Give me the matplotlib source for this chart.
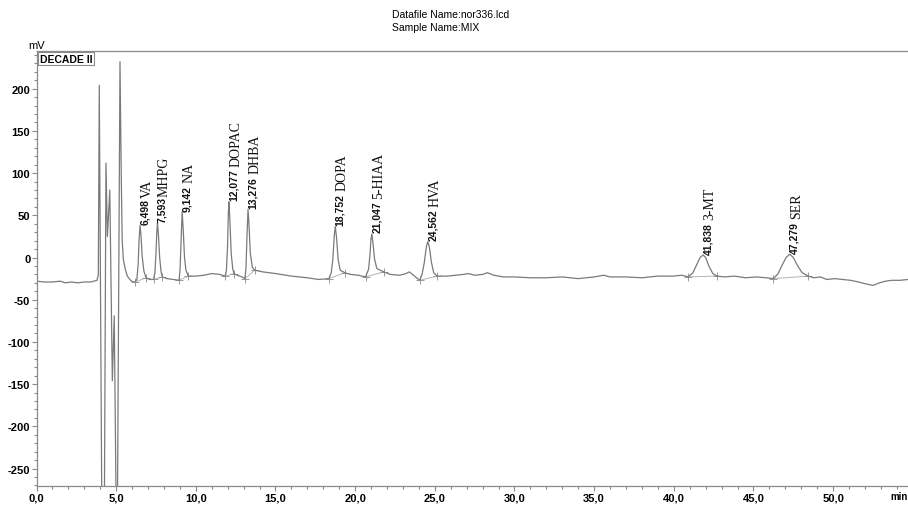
# Chromatogram of the MIX standard (DECADE II detector)

import numpy as np
import matplotlib
matplotlib.use("Agg")
import matplotlib.pyplot as plt
from matplotlib.ticker import MultipleLocator, FuncFormatter

# detector trace: time in min, signal in mV
trace_t = [0.0, 0.5, 1.0, 1.5, 1.8, 2.2, 2.6, 3.0, 3.4, 3.8, 3.88,
           3.94, 4.10, 4.26, 4.36, 4.45, 4.60, 4.76, 4.88, 5.00, 5.08,
           5.24, 5.32, 5.38, 5.45, 5.56, 5.70, 5.90, 6.05,
           6.18, 6.30, 6.38, 6.44, 6.498, 6.56, 6.63, 6.74, 6.88, 7.10,
           7.35, 7.43, 7.50, 7.55, 7.593, 7.65, 7.73, 7.82, 7.90, 8.2, 8.6,
           8.95, 9.01, 9.07, 9.142, 9.21, 9.29, 9.38, 9.52, 10.0, 10.5, 11.0, 11.5,
           11.85, 11.92, 11.99, 12.04, 12.077, 12.13, 12.22, 12.32, 12.40, 12.6, 12.9,
           13.08, 13.15, 13.21, 13.276, 13.34, 13.42, 13.55, 13.70, 14.2, 15.0, 16.0, 17.0, 17.7,
           18.35, 18.50, 18.60, 18.69, 18.752, 18.83, 18.93, 19.06, 19.35, 19.7, 20.2,
           20.65, 20.84, 20.93, 20.99, 21.047, 21.12, 21.22, 21.36, 21.80, 22.2, 22.8, 23.2, 23.4, 23.6,
           24.05, 24.20, 24.34, 24.47, 24.562, 24.66, 24.79, 24.93, 25.15,
           25.8, 26.3, 26.8, 27.1, 27.5, 28.0, 28.3, 28.7, 29.3, 30.0, 31.0, 32.0,
           33.0, 34.0, 35.0, 35.6, 36.0, 37.0, 38.0, 39.0, 40.0, 40.5,
           40.92, 41.20, 41.45, 41.65, 41.838, 42.00, 42.20, 42.45, 42.72,
           43.2, 43.8, 44.5, 45.2, 45.8,
           46.25, 46.55, 46.80, 47.05, 47.279, 47.50, 47.75, 48.05, 48.45,
           48.8, 49.2, 49.6, 50.1, 50.6, 51.1, 51.6, 52.0, 52.5, 52.9, 53.3, 53.7, 54.2, 54.7]
trace_mv = [-28, -29, -29, -28, -30, -29, -30, -29, -29, -27, -20,
            204, -300, -300, 112, 25, 80, -146, -69, -300, -300,
            232, 95, 20, -2, -13, -22, -27, -29,
            -29, -26, -8, 22, 38, 26, 2, -16, -24, -26,
            -26, -18, 5, 30, 41, 28, 0, -17, -23, -25, -26,
            -27, -14, 18, 54, 33, 0, -15, -22, -22, -21, -19, -20,
            -22, -15, 12, 52, 66, 48, 5, -14, -19, -21, -23,
            -25, -12, 25, 57, 38, 5, -12, -15, -17, -19, -22, -24, -26,
            -25, -18, -2, 26, 37, 24, -2, -15, -18, -20, -21,
            -23, -14, 3, 21, 28, 17, -2, -13, -17, -20, -21, -19, -17, -20,
            -27, -20, -6, 13, 19, 12, -6, -18, -22,
            -22, -21, -20, -19, -21, -20, -18, -21, -23, -23, -24, -24,
            -23, -25, -23, -21, -23, -23, -24, -22, -22, -21,
            -23, -18, -8, 0, 3, 0, -10, -19, -22,
            -23, -22, -24, -23, -24,
            -25, -19, -9, 0, 4, 0, -9, -18, -22,
            -24, -23, -26, -25, -26, -27, -29, -31, -33, -30, -28, -27, -27, -26]

# identified peaks
peak_names = ["VA", "MHPG", "NA", "DOPAC", "DHBA", "DOPA", "5-HIAA", "HVA", "3-MT", "SER"]
peak_rt = [6.498, 7.593, 9.142, 12.077, 13.276, 18.752, 21.047, 24.562, 41.838, 47.279]
peak_mv = [38, 41, 54, 66, 57, 37, 28, 19, 3, 4]
# integration start / end points
start_t = [6.18, 7.35, 8.95, 11.85, 13.08, 18.35, 20.65, 24.05, 40.92, 46.25]
start_mv = [-29, -26, -27, -22, -25, -25, -23, -27, -23, -25]
end_t = [6.88, 7.90, 9.52, 12.40, 13.70, 19.35, 21.80, 25.15, 42.72, 48.45]
end_mv = [-24, -23, -22, -19, -15, -18, -17, -22, -22, -22]

num_name_gap = [1, 0, 2, 2, 2, 2, 2, 2, 2, 2]

line_col = "#7a7a7a"

fig = plt.figure(figsize=(9.08, 5.06), dpi=100)
ax = fig.add_axes([0.0402, 0.0375, 0.9598, 0.8598])

# integration baselines and marks
for i in range(len(peak_names)):
    ax.plot([start_t[i], end_t[i]], [start_mv[i], end_mv[i]], color="#b5b5b5", lw=0.7, zorder=1)
ax.plot(start_t + end_t, start_mv + end_mv, "+", color="#9a9a9a", ms=6, mew=0.7, zorder=1)

ax.plot(trace_t, trace_mv, color=line_col, lw=0.9, zorder=2)

ax.set_xlim(0, 54.7)
ax.set_ylim(-270.7, 244.7)

# peak labels: retention time then compound name, rotated
for i in range(len(peak_names)):
    num = ax.annotate(("%.3f" % peak_rt[i]).replace(".", ","), xy=(peak_rt[i], peak_mv[i]),
                      xytext=(3.5, 1), textcoords="offset points", rotation=90,
                      ha="center", va="bottom", fontsize=7.5, fontweight="bold",
                      family="Liberation Sans", color="#111111")
    ax.annotate(peak_names[i], xy=(0.5, 1), xycoords=num,
                xytext=(1.5, num_name_gap[i]), textcoords="offset points", rotation=90,
                ha="center", va="bottom", fontsize=10, family="Liberation Serif",
                color="#111111")

# axes styling
for s in ["left", "bottom", "top"]:
    ax.spines[s].set_color("#8a8a8a")
    ax.spines[s].set_linewidth(0.9)
ax.spines["right"].set_visible(False)

ax.xaxis.set_major_locator(MultipleLocator(5))
ax.xaxis.set_minor_locator(MultipleLocator(1))
ax.yaxis.set_major_locator(MultipleLocator(50))
ax.yaxis.set_minor_locator(MultipleLocator(10))
ax.xaxis.set_major_formatter(FuncFormatter(lambda v, p: ("%.1f" % v).replace(".", ",")))
ax.yaxis.set_major_formatter(FuncFormatter(lambda v, p: "%d" % v))
ax.tick_params(which="both", direction="out", color="#8a8a8a", width=0.8)
ax.tick_params(which="major", length=3.5, labelsize=8, pad=1)
ax.tick_params(which="minor", length=2.5)
for lab in ax.get_xticklabels() + ax.get_yticklabels():
    lab.set_family("Liberation Sans")
    lab.set_fontweight("bold")

ax.text(1.0, -0.012, "min", transform=ax.transAxes, ha="right", va="top",
        fontsize=7, family="Liberation Sans", fontweight="bold")

ax.text(0.0, 1.003, "mV", transform=ax.transAxes, ha="center", va="bottom",
        fontsize=8, family="Liberation Sans")
ax.text(0.004, 0.994, "DECADE II", transform=ax.transAxes, ha="left", va="top",
        fontsize=7.5, family="Liberation Sans", fontweight="bold",
        bbox=dict(boxstyle="square,pad=0.15", fc="white", ec="#8a8a8a", lw=0.8))

fig.text(0.432, 0.970, "Datafile Name:nor336.lcd", ha="left", va="center",
         fontsize=7.5, family="Liberation Sans")
fig.text(0.432, 0.944, "Sample Name:MIX", ha="left", va="center",
         fontsize=7.5, family="Liberation Sans")

fig.savefig("out.png", dpi=100)
